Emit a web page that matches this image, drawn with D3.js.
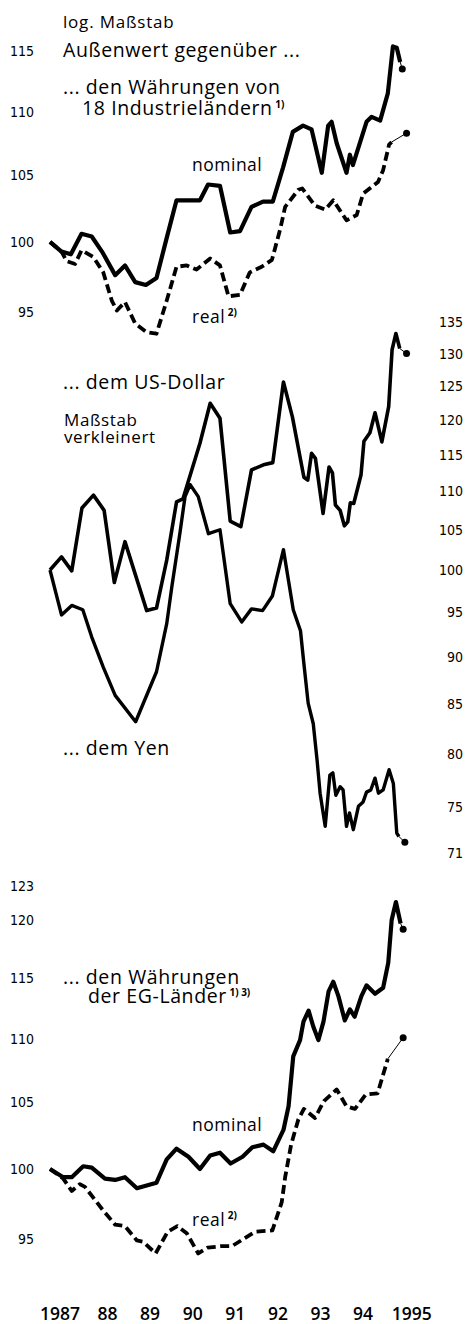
<!DOCTYPE html>
<html>
<head>
<meta charset="utf-8">
<script src="https://cdn.jsdelivr.net/npm/d3@7"></script>
<style>
  body { margin: 0; background: #fff; }
  svg text { font-family: "Open Sans", "Noto Sans", sans-serif; fill: #000; }
  .tick text { font-family: "Liberation Sans Narrow", "DejaVu Sans Condensed", sans-serif; font-size: 14px; }
</style>
</head>
<body>
<svg id="chart" width="465" height="1324"></svg>
<script>
// year labels on the bottom
const years = [1987, 1988, 1989, 1990, 1991, 1992, 1993, 1994, 1995];
const yearLabels = ['1987', '88', '89', '90', '91', '92', '93', '94', '1995'];

// tick labels
const ticksInd = [95, 100, 105, 110, 115];
const ticksUsdYen = [71, 75, 80, 85, 90, 95, 100, 105, 110, 115, 120, 125, 130, 135];
const ticksEg = [95, 100, 105, 110, 115, 120, 123];

// ... den Währungen von 18 Industrieländern, nominal
const indNomDates = [1987.00, 1987.27, 1987.49, 1987.74, 1987.98, 1988.24, 1988.53, 1988.76, 1989.00, 1989.25, 1989.50, 1989.74, 1989.97, 1990.24, 1990.52, 1990.71, 1990.99, 1991.23, 1991.46, 1991.73, 1992.00, 1992.23, 1992.47, 1992.70, 1992.94, 1993.14, 1993.38, 1993.53, 1993.61, 1993.73, 1993.96, 1994.04, 1994.11, 1994.43, 1994.55, 1994.75, 1994.93, 1995.05, 1995.14, 1995.22, 1995.27];
const indNomValues = [100.0, 99.3, 99.1, 100.6, 100.4, 99.2, 97.6, 98.3, 97.1, 96.9, 97.4, 100.3, 103.1, 103.1, 103.1, 104.3, 104.2, 100.7, 100.8, 102.6, 103.0, 103.0, 105.6, 108.4, 108.9, 108.6, 105.2, 108.9, 109.2, 107.5, 105.2, 106.6, 105.8, 109.2, 109.6, 109.3, 111.5, 115.4, 115.3, 114.1, 113.5];

// ... real
const indRealDates = [1987.00, 1987.27, 1987.39, 1987.59, 1987.74, 1988.02, 1988.25, 1988.45, 1988.57, 1988.76, 1989.00, 1989.27, 1989.50, 1989.74, 1989.97, 1990.21, 1990.44, 1990.76, 1990.99, 1991.19, 1991.46, 1991.69, 1991.97, 1992.21, 1992.40, 1992.52, 1992.83, 1992.92, 1993.22, 1993.46, 1993.65, 1993.96, 1994.20, 1994.35, 1994.70, 1994.82, 1994.96, 1995.02, 1995.37];
const indRealValues = [100.0, 99.3, 98.6, 98.4, 99.4, 98.9, 97.8, 95.8, 95.1, 95.7, 94.2, 93.6, 93.5, 95.8, 98.2, 98.3, 98.0, 98.8, 98.3, 96.1, 96.2, 97.8, 98.2, 98.7, 100.9, 102.6, 103.9, 104.0, 102.7, 102.4, 103.1, 101.6, 102.0, 103.6, 104.5, 105.4, 107.4, 107.6, 108.3];

// ... dem US-Dollar
const usdDates = [1987.00, 1987.27, 1987.51, 1987.75, 1988.02, 1988.27, 1988.51, 1988.76, 1989.27, 1989.50, 1989.74, 1989.97, 1990.12, 1990.52, 1990.76, 1990.99, 1991.23, 1991.48, 1991.73, 1992.01, 1992.23, 1992.48, 1992.69, 1992.96, 1993.05, 1993.14, 1993.23, 1993.41, 1993.55, 1993.63, 1993.70, 1993.81, 1993.91, 1993.99, 1994.05, 1994.13, 1994.30, 1994.37, 1994.51, 1994.63, 1994.79, 1994.95, 1995.03, 1995.12, 1995.21, 1995.37];
const usdValues = [100.0, 101.6, 99.9, 107.8, 109.5, 107.5, 98.5, 103.5, 95.2, 95.5, 101.2, 108.6, 109.0, 116.6, 122.4, 120.2, 106.1, 105.4, 112.9, 113.6, 113.9, 125.6, 120.4, 111.9, 111.5, 115.2, 114.5, 107.1, 113.3, 112.5, 108.2, 107.5, 105.5, 106.0, 108.5, 108.4, 112.2, 116.9, 118.1, 121.0, 116.8, 121.9, 130.6, 133.2, 130.8, 130.0];

// ... dem Yen
const yenDates = [1987.00, 1987.27, 1987.51, 1987.77, 1987.98, 1988.25, 1988.53, 1989.01, 1989.50, 1989.74, 1989.86, 1990.05, 1990.17, 1990.29, 1990.48, 1990.72, 1990.99, 1991.23, 1991.50, 1991.73, 1991.99, 1992.22, 1992.48, 1992.71, 1992.88, 1992.95, 1993.06, 1993.18, 1993.27, 1993.34, 1993.46, 1993.57, 1993.64, 1993.71, 1993.81, 1993.88, 1993.96, 1994.03, 1994.12, 1994.24, 1994.35, 1994.43, 1994.53, 1994.63, 1994.71, 1994.82, 1994.96, 1995.06, 1995.14, 1995.19, 1995.33];
const yenValues = [100.0, 94.7, 95.8, 95.3, 92.2, 88.9, 85.9, 83.2, 88.4, 93.7, 98.0, 104.6, 109.3, 110.9, 109.3, 104.5, 105.0, 96.0, 93.9, 95.4, 95.2, 96.9, 102.5, 95.3, 92.9, 89.7, 85.1, 83.0, 79.4, 76.3, 73.3, 78.0, 78.2, 76.1, 76.9, 76.6, 73.3, 74.5, 73.0, 75.1, 75.5, 76.4, 76.6, 77.7, 76.3, 76.6, 78.5, 77.2, 72.7, 72.4, 71.9];

// ... den Währungen der EG-Länder, nominal
const egNomDates = [1987.00, 1987.31, 1987.51, 1987.78, 1987.98, 1988.29, 1988.53, 1988.76, 1989.04, 1989.50, 1989.74, 1989.97, 1990.25, 1990.52, 1990.76, 1990.99, 1991.24, 1991.52, 1991.75, 1992.01, 1992.24, 1992.48, 1992.60, 1992.71, 1992.87, 1992.95, 1993.07, 1993.18, 1993.30, 1993.42, 1993.54, 1993.65, 1993.77, 1993.92, 1994.04, 1994.15, 1994.31, 1994.43, 1994.63, 1994.82, 1994.94, 1995.02, 1995.12, 1995.23, 1995.29];
const egNomValues = [100.0, 99.4, 99.4, 100.2, 100.1, 99.3, 99.2, 99.4, 98.6, 99.0, 100.7, 101.5, 100.9, 100.0, 101.0, 101.2, 100.4, 100.9, 101.6, 101.8, 101.3, 102.9, 104.7, 108.6, 109.9, 111.4, 112.3, 111.0, 109.9, 111.4, 113.9, 114.7, 113.5, 111.5, 112.4, 111.8, 113.5, 114.4, 113.7, 114.2, 116.3, 120.0, 121.6, 119.7, 119.2];

// ... real
const egRealDates = [1987.00, 1987.31, 1987.51, 1987.70, 1987.82, 1988.02, 1988.25, 1988.53, 1988.76, 1989.04, 1989.19, 1989.48, 1989.76, 1989.99, 1990.21, 1990.48, 1990.70, 1991.01, 1991.27, 1991.54, 1991.81, 1992.22, 1992.44, 1992.52, 1992.66, 1992.83, 1992.96, 1993.22, 1993.43, 1993.73, 1993.96, 1994.16, 1994.41, 1994.69, 1994.93, 1995.29];
const egRealValues = [100.0, 99.3, 98.4, 98.9, 98.7, 97.9, 97.0, 96.0, 95.9, 94.9, 94.8, 94.0, 95.5, 95.9, 95.4, 94.0, 94.4, 94.5, 94.5, 95.0, 95.5, 95.6, 97.6, 99.4, 101.8, 103.7, 104.5, 103.8, 105.1, 106.0, 104.7, 104.5, 105.6, 105.7, 108.4, 110.1];

const svg = d3.select('#chart');

const x = d3.scaleLinear().domain([1987, 1995.5]).range([50, 412.1]);

// log scales, the middle one is drawn smaller (Maßstab verkleinert)
const yInd = d3.scaleLog().domain([95, 115]).range([312.0, 51.2]);
const yUsdYen = d3.scaleLog().domain([71, 135]).range([852.6, 322.4]);
const yEg = d3.scaleLog().domain([95, 123]).range([1239.0, 886.4]);

function leftAxis(scale, ticks) {
  svg.append('g')
     .attr('transform', 'translate(34,0)')
     .call(d3.axisLeft(scale).tickValues(ticks).tickSize(0).tickPadding(0).tickFormat(d3.format('d')))
     .call(g => g.select('.domain').remove());
}

leftAxis(yInd, ticksInd);
leftAxis(yEg, ticksEg);

svg.append('g')
   .attr('transform', 'translate(463,0)')
   .call(d3.axisRight(yUsdYen).tickValues(ticksUsdYen).tickSize(0).tickPadding(0).tickFormat(d3.format('d')))
   .call(g => g.select('.domain').remove())
   .call(g => g.selectAll('text').attr('text-anchor', 'end'));

// draw one series: the last value is the dot, joined by a thin line
function drawSeries(y, dates, values, width, dash) {
  const pts = dates.map((d, i) => [d, values[i]]);
  const line = d3.line().x(d => x(d[0])).y(d => y(d[1]));

  svg.append('path')
     .datum(pts.slice(0, -1))
     .attr('d', line)
     .attr('fill', 'none')
     .attr('stroke', '#000')
     .attr('stroke-width', width)
     .attr('stroke-linejoin', 'round')
     .attr('stroke-dasharray', dash);

  svg.append('path')
     .datum(pts.slice(-2))
     .attr('d', line)
     .attr('fill', 'none')
     .attr('stroke', '#000')
     .attr('stroke-width', 1);

  const last = pts[pts.length - 1];
  svg.append('circle')
     .attr('cx', x(last[0]))
     .attr('cy', y(last[1]))
     .attr('r', 3.5)
     .attr('fill', '#000');
}

drawSeries(yInd, indRealDates, indRealValues, 3.8, '9,4.5');
drawSeries(yInd, indNomDates, indNomValues, 4.2, null);
drawSeries(yUsdYen, yenDates, yenValues, 3.4, null);
drawSeries(yUsdYen, usdDates, usdValues, 3.6, null);
drawSeries(yEg, egRealDates, egRealValues, 3.8, '9,4.5');
drawSeries(yEg, egNomDates, egNomValues, 4.2, null);

// texts
function label(txt, px, py, size, spacing, sup) {
  const t = svg.append('text')
               .attr('x', px)
               .attr('y', py)
               .attr('font-size', size)
               .attr('letter-spacing', spacing)
               .text(txt);
  if (sup) {
    t.append('tspan').attr('font-size', 10).attr('font-weight', 700).attr('letter-spacing', 0).attr('dy', -7).text(' ' + sup);
  }
  return t;
}

label('log. Maßstab', 63, 28, 17, 0.8);
label('Außenwert gegenüber ...', 63, 57, 19.5, 0.6);
label('... den Währungen von', 63, 94, 19.5, 0.6);
label('18 Industrieländern', 82, 115, 19.5, 0.6, '1)');
label('nominal', 192, 171, 17.5, 0.5);
label('real', 192, 323, 17.5, 0.5, '2)');

label('... dem US-Dollar', 63, 389, 19.5, 0.6);
label('Maßstab', 64, 426, 17, 0.6);
label('verkleinert', 64, 443, 17, 0.6);
label('... dem Yen', 63, 755, 19.5, 0.6);

label('... den Währungen', 63, 984, 19.5, 0.6);
label('der EG-Länder', 88, 1003, 19.5, 0.6, '1) 3)');
label('nominal', 192, 1131, 17.5, 0.5);
label('real', 192, 1226, 17.5, 0.5, '2)');

svg.append('g')
   .selectAll('text')
   .data(years)
   .enter().append('text')
   .attr('x', (d, i) => x(d + 0.35) + (i === 0 ? -5 : i === years.length - 1 ? 6 : 0))
   .attr('y', 1320)
   .attr('text-anchor', 'middle')
   .attr('font-size', 17.5)
   .attr('font-weight', 600)
   .text((d, i) => yearLabels[i]);
</script>
</body>
</html>
